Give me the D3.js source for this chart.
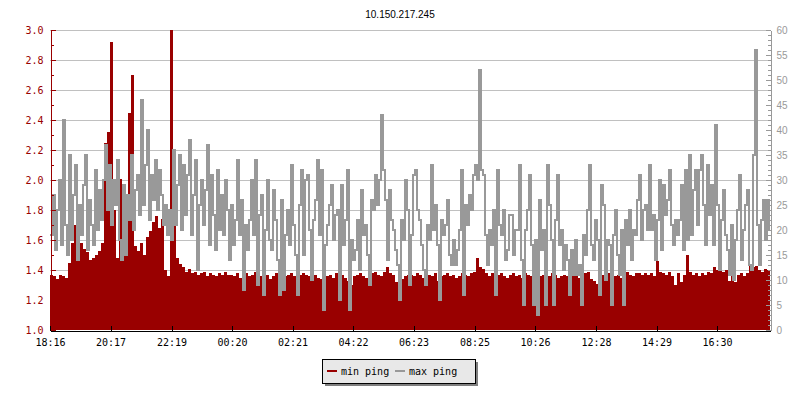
<!DOCTYPE html>
<html>
<head>
<meta charset="utf-8">
<script src="https://cdn.jsdelivr.net/npm/d3@7"></script>
<style>
    body { margin: 0; background: #fff; }
    svg text { font-family: "DejaVu Sans Mono", monospace; font-size: 10px; }
</style>
</head>
<body>
<svg id="chart" width="800" height="400"></svg>
<script>
"use strict";

const title = "10.150.217.245";
const startTime = "18:16";
const spanMinutes = 1440;
const minPingStep = 6;   // minutes between min ping samples
const maxPingStep = 4;   // minutes between max ping samples

const tickLabels = ["18:16", "20:17", "22:19", "00:20", "02:21", "04:22",
                    "06:23", "08:25", "10:26", "12:28", "14:29", "16:30"];
const minPingTicks = [1.0, 1.2, 1.4, 1.6, 1.8, 2.0, 2.2, 2.4, 2.6, 2.8, 3.0];
const maxPingTicks = [0, 5, 10, 15, 20, 25, 30, 35, 40, 45, 50, 55, 60];
const seriesNames = ["min ping", "max ping"];

const minPing = [
    1.37, 1.36, 1.34, 1.37, 1.36, 1.35, 1.45, 1.58, 1.70, 1.52,
    1.58, 1.54, 1.52, 1.47, 1.48, 1.50, 1.53, 1.58, 2.25, 2.32,
    2.92, 1.80, 1.48, 2.01, 1.50, 1.55, 2.45, 2.70, 1.56, 1.53,
    1.58, 1.50, 1.62, 1.66, 1.72, 1.76, 1.68, 1.74, 1.40, 1.36,
    3.00, 2.20, 1.48, 1.44, 1.42, 1.39, 1.41, 1.38, 1.39, 1.37,
    1.38, 1.39, 1.36, 1.38, 1.37, 1.36, 1.38, 1.37, 1.39, 1.37,

    1.37, 1.36, 1.38, 1.35, 1.37, 1.38, 1.36, 1.37, 1.39, 1.35,
    1.36, 1.38, 1.37, 1.34, 1.36, 1.38, 1.37, 1.35, 1.36, 1.37,
    1.38, 1.36, 1.35, 1.37, 1.38, 1.37, 1.36, 1.38, 1.37, 1.35,
    1.34, 1.29, 1.36, 1.37, 1.35, 1.38, 1.36, 1.37, 1.35, 1.33,
    1.30, 1.36, 1.37, 1.38, 1.36, 1.35, 1.37, 1.38, 1.39, 1.37,
    1.36, 1.39, 1.42, 1.38, 1.37, 1.32, 1.35, 1.34, 1.36, 1.37,

    1.37, 1.36, 1.38, 1.37, 1.35, 1.34, 1.37, 1.36, 1.38, 1.33,
    1.36, 1.37, 1.38, 1.36, 1.37, 1.35, 1.36, 1.38, 1.37, 1.36,
    1.38, 1.39, 1.48, 1.42, 1.41, 1.38, 1.36, 1.38, 1.34, 1.37,
    1.38, 1.36, 1.35, 1.37, 1.38, 1.36, 1.37, 1.35, 1.38, 1.37,
    1.36, 1.35, 1.33, 1.36, 1.37, 1.35, 1.36, 1.38, 1.37, 1.35,
    1.36, 1.37, 1.36, 1.34, 1.36, 1.37, 1.35, 1.36, 1.38, 1.39,

    1.34, 1.33, 1.31, 1.39, 1.37, 1.36, 1.38, 1.32, 1.36, 1.37,
    1.35, 1.36, 1.39, 1.37, 1.36, 1.38, 1.38, 1.37, 1.38, 1.37,
    1.38, 1.36, 1.46, 1.39, 1.38, 1.37, 1.39, 1.36, 1.30, 1.38,
    1.32, 1.37, 1.50, 1.39, 1.37, 1.38, 1.36, 1.38, 1.37, 1.39,
    1.38, 1.42, 1.40, 1.41, 1.39, 1.40, 1.33, 1.38, 1.32, 1.37,
    1.38, 1.36, 1.38, 1.43, 1.42, 1.43, 1.40, 1.39, 1.41, 1.40
];

const maxPing = [
    19, 27, 16, 24, 30, 17, 42, 21, 15, 35, 18, 27, 33, 14, 25, 19, 29, 35,
    16, 26, 21, 17, 32, 20, 28, 22, 30, 37, 24, 33, 21, 30, 25, 34, 18, 14,
    29, 15, 27, 22, 35, 20, 28, 31, 23, 46, 25, 33, 40, 22, 31, 26, 34, 24,
    32, 27, 21, 25, 19, 24, 18, 36, 21, 29, 35, 20, 33, 23, 31, 38, 19, 27,
    34, 12, 25, 30, 21, 28, 37, 17, 31, 23, 16, 32, 20, 27, 19, 30, 24, 14,

    25, 17, 22, 34, 19, 26, 8, 21, 16, 22, 30, 19, 34, 9, 23, 27, 7, 20,
    30, 18, 16, 28, 22, 14, 7, 26, 8, 19, 24, 17, 33, 21, 15, 7, 25, 32,
    15, 30, 31, 20, 10, 22, 26, 34, 19, 32, 4, 17, 21, 25, 29, 18, 23, 24,
    6, 29, 17, 22, 32, 4, 18, 14, 16, 22, 12, 28, 19, 21, 15, 9, 26, 24,
    31, 25, 30, 43, 32, 26, 14, 28, 22, 20, 16, 13, 6, 22, 18, 30, 24, 9,

    19, 31, 32, 24, 22, 17, 12, 9, 21, 18, 33, 20, 25, 17, 6, 22, 19, 21,
    26, 15, 13, 18, 13, 16, 20, 32, 7, 25, 21, 27, 24, 31, 33, 30, 52, 32,
    31, 19, 13, 20, 17, 24, 7, 32, 21, 19, 24, 14, 16, 23, 23, 15, 20, 20,
    33, 14, 5, 20, 24, 31, 17, 5, 18, 3, 26, 16, 20, 5, 33, 25, 18, 5,
    22, 31, 17, 20, 12, 17, 14, 7, 16, 11, 18, 11, 13, 5, 19, 15, 24, 33,

    17, 14, 22, 18, 7, 29, 25, 10, 18, 17, 5, 19, 24, 15, 11, 20, 5, 22,
    17, 24, 14, 20, 19, 26, 31, 18, 24, 25, 20, 33, 20, 23, 14, 22, 30, 16,
    29, 23, 26, 32, 21, 17, 22, 19, 22, 29, 16, 32, 18, 35, 19, 28, 32, 21,
    32, 35, 25, 17, 33, 23, 29, 17, 41, 25, 12, 22, 28, 19, 16, 11, 21, 10,
    18, 24, 31, 14, 20, 25, 28, 13, 12, 35, 56, 21, 13, 22, 26, 18, 26, 20
];

const red = "#990000";
const grey = "#999999";
const plot = {left: 50, right: 770, top: 30, bottom: 330};

const toMinutes = s => { const [h, m] = s.split(":").map(Number); return h * 60 + m; };
const sinceStart = s => (toMinutes(s) - toMinutes(startTime) + 1440) % 1440;

const x = d3.scaleLinear().domain([0, spanMinutes]).range([plot.left, plot.right]);
const yMin = d3.scaleLinear().domain([1, 3]).range([plot.bottom, plot.top]);
const yMax = d3.scaleLinear().domain([0, 60]).range([plot.bottom, plot.top]);

// [minute, value] pairs; the last value is held to the right edge
const toPoints = (values, step) => {
    const pts = values.map((v, i) => [i * step, v]);
    pts.push([spanMinutes, values[values.length - 1]]);
    return pts;
};

const svg = d3.select("#chart");

svg.append("text")
    .attr("x", 400)
    .attr("y", 14)
    .attr("dy", "0.35em")
    .attr("text-anchor", "middle")
    .attr("fill", "#000")
    .style("font-family", "'Liberation Sans', sans-serif")
    .style("font-size", "10px")
    .text(title);

// grid
svg.append("g")
    .attr("shape-rendering", "crispEdges")
    .selectAll("line")
    .data(minPingTicks.filter(t => t > 1))
    .join("line")
    .attr("x1", plot.left)
    .attr("x2", plot.right)
    .attr("y1", d => Math.round(yMin(d)) + 0.5)
    .attr("y2", d => Math.round(yMin(d)) + 0.5)
    .attr("stroke", "#c0c0c0");

// min ping area
svg.append("path")
    .datum(toPoints(minPing, minPingStep))
    .attr("fill", red)
    .attr("shape-rendering", "crispEdges")
    .attr("d", d3.area()
        .curve(d3.curveStepAfter)
        .x(d => x(d[0]))
        .y0(yMin(1))
        .y1(d => yMin(d[1])));

// max ping line: strokes as wide as a sample column so each column is filled like the original
const colW = x(maxPingStep) - x(0);
svg.append("path")
    .datum(toPoints(maxPing, maxPingStep))
    .attr("fill", "none")
    .attr("stroke", grey)
    .attr("stroke-width", colW)
    .attr("stroke-linecap", "square")
    .attr("shape-rendering", "crispEdges")
    .attr("d", d3.line()
        .curve(d3.curveStepAfter)
        .x(d => Math.min(x(d[0]) + colW / 2, plot.right - colW / 2))
        .y(d => Math.round(yMax(d[1]))));

// left axis
const leftMinor = d3.range(11, 30, 2).map(v => v / 10);
svg.append("g")
    .attr("transform", `translate(${plot.left + 0.5},0)`)
    .attr("shape-rendering", "crispEdges")
    .call(d3.axisLeft(yMin).tickValues(leftMinor).tickSize(-3).tickFormat(""))
    .call(g => g.select(".domain").remove())
    .call(g => g.selectAll("line").attr("stroke", red));
svg.append("g")
    .attr("transform", `translate(${plot.left + 0.5},0)`)
    .attr("shape-rendering", "crispEdges")
    .call(d3.axisLeft(yMin).tickValues(minPingTicks).tickSizeInner(-5).tickSizeOuter(0)
        .tickPadding(7).tickFormat(d3.format(".1f")))
    .call(g => g.select(".domain").attr("stroke", red))
    .call(g => g.selectAll("line").attr("stroke", red))
    .call(g => g.selectAll("text").attr("fill", red).style("font-size", "10px"));

// right axis
svg.append("g")
    .attr("transform", `translate(${plot.right + 0.5},0)`)
    .attr("shape-rendering", "crispEdges")
    .call(d3.axisRight(yMax).tickValues(d3.range(0, 61).filter(v => v % 5)).tickSize(-3).tickFormat(""))
    .call(g => g.select(".domain").remove())
    .call(g => g.selectAll("line").attr("stroke", grey));
svg.append("g")
    .attr("transform", `translate(${plot.right + 0.5},0)`)
    .attr("shape-rendering", "crispEdges")
    .call(d3.axisRight(yMax).tickValues(maxPingTicks).tickSizeInner(-5).tickSizeOuter(0).tickPadding(6))
    .call(g => g.select(".domain").attr("stroke", grey))
    .call(g => g.selectAll("line").attr("stroke", grey))
    .call(g => g.selectAll("text")
        .attr("fill", grey)
        .style("font-family", "'Liberation Sans', sans-serif")
        .style("font-size", "10px"));

// time axis
svg.append("g")
    .attr("transform", `translate(0,${plot.bottom + 0.5})`)
    .attr("shape-rendering", "crispEdges")
    .call(d3.axisBottom(x)
        .tickValues(tickLabels.map(sinceStart))
        .tickFormat((d, i) => tickLabels[i])
        .tickSizeInner(-5).tickSizeOuter(0).tickPadding(8))
    .call(g => g.selectAll("text").attr("fill", "#000").style("font-size", "10px"));

// legend
const legend = svg.append("g").attr("transform", "translate(322,359)");
legend.append("rect")
    .attr("x", 3).attr("y", 3)
    .attr("width", 153).attr("height", 24)
    .attr("fill", "#7f7f7f");
legend.append("rect")
    .attr("x", 0.5).attr("y", 0.5)
    .attr("width", 153).attr("height", 24)
    .attr("fill", "#e8e8e8")
    .attr("stroke", "#000")
    .attr("shape-rendering", "crispEdges");

const legendColors = [red, grey];
legend.selectAll("g.entry")
    .data(seriesNames)
    .join("g")
    .classed("entry", true)
    .attr("transform", (d, i) => `translate(${5 + i * 68},12)`)
    .call(g => g.append("line")
        .attr("x1", 0).attr("x2", 10)
        .attr("stroke", (d, i) => legendColors[i])
        .attr("stroke-width", 2))
    .call(g => g.append("text")
        .attr("x", 14)
        .attr("dy", "0.35em")
        .attr("fill", "#000")
        .text(d => d));
</script>
</body>
</html>
